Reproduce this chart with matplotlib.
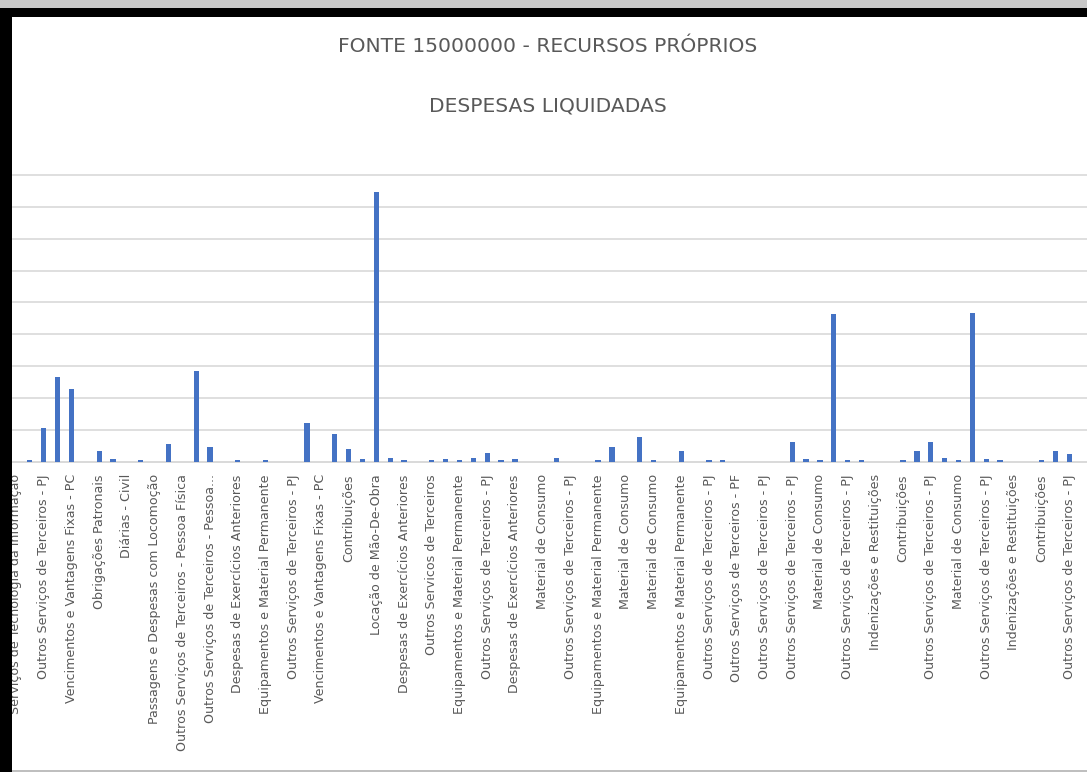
import matplotlib
matplotlib.use("Agg")
import matplotlib.pyplot as plt
from matplotlib.patches import Rectangle
import numpy as np

plt.rcParams['font.family'] = ['Liberation Sans Narrow', 'DejaVu Sans']

title1 = "FONTE 15000000 - RECURSOS PRÓPRIOS"
title2 = "DESPESAS LIQUIDADAS"

# values per category (in grid units), 77 categories; every other label shown
values = [0, 0.05, 1.05, 2.66, 2.27, 0, 0.33, 0.08, 0, 0.05,
          0, 0.54, 0, 2.84, 0.47, 0, 0.05, 0, 0.05, 0,
          0, 1.2, 0, 0.87, 0.39, 0.08, 8.46, 0.13, 0.05, 0,
          0.05, 0.08, 0.05, 0.13, 0.26, 0.05, 0.08, 0, 0, 0.13,
          0, 0, 0.05, 0.47, 0, 0.76, 0.05, 0, 0.33, 0,
          0.05, 0.05, 0, 0, 0, 0, 0.63, 0.08, 0.05, 4.63,
          0.05, 0.05, 0, 0, 0.05, 0.33, 0.63, 0.13, 0.05, 4.68,
          0.08, 0.05, 0, 0, 0.05, 0.33, 0.24]

shown_labels = [
    "Serviços de Tecnologia da Informação",
    "Outros Serviços de Terceiros - PJ",
    "Vencimentos e Vantagens Fixas - PC",
    "Obrigações Patronais",
    "Diárias - Civil",
    "Passagens e Despesas com Locomoção",
    "Outros Serviços de Terceiros - Pessoa Física",
    "Outros Serviços de Terceiros - Pessoa...",
    "Despesas de Exercícios Anteriores",
    "Equipamentos e Material Permanente",
    "Outros Serviços de Terceiros - PJ",
    "Vencimentos e Vantagens Fixas - PC",
    "Contribuições",
    "Locação de Mão-De-Obra",
    "Despesas de Exercícios Anteriores",
    "Outros Servicos de Terceiros",
    "Equipamentos e Material Permanente",
    "Outros Serviços de Terceiros - PJ",
    "Despesas de Exercícios Anteriores",
    "Material de Consumo",
    "Outros Serviços de Terceiros - PJ",
    "Equipamentos e Material Permanente",
    "Material de Consumo",
    "Material de Consumo",
    "Equipamentos e Material Permanente",
    "Outros Serviços de Terceiros - PJ",
    "Outros Serviços de Terceiros - PF",
    "Outros Serviços de Terceiros - PJ",
    "Outros Serviços de Terceiros - PJ",
    "Material de Consumo",
    "Outros Serviços de Terceiros - PJ",
    "Indenizações e Restituições",
    "Contribuições",
    "Outros Serviços de Terceiros - PJ",
    "Material de Consumo",
    "Outros Serviços de Terceiros - PJ",
    "Indenizações e Restituições",
    "Contribuições",
    "Outros Serviços de Terceiros - PJ",
]

W, H = 1087, 772
fig = plt.figure(figsize=(W / 100, H / 100), dpi=100)

x_left_px, x_right_px = 13, 1087
y_top_px, y_bot_px = 175, 461.7
ax = fig.add_axes([x_left_px / W, 1 - y_bot_px / H,
                   (x_right_px - x_left_px) / W, (y_bot_px - y_top_px) / H])

x = np.arange(len(values))
ax.bar(x, values, width=0.38, color='#4472C4', zorder=3)

step = 13.86
ax.set_xlim((x_left_px - 16) / step, (x_right_px - 16) / step)
ax.set_ylim(0, 9)
ax.set_yticks(np.arange(0, 10, 1))
ax.yaxis.grid(True, color='#d9d9d9', linewidth=1.2, zorder=0)
for g in ax.get_ygridlines():
    g.set_clip_on(False)
ax.tick_params(axis='y', left=False, labelleft=False)

ax.set_xticks(x[::2])
ax.set_xticklabels(shown_labels, rotation=90, fontsize=9.1, color='#595959')
ax.tick_params(axis='x', length=0, pad=9)

for s in ['top', 'right', 'left']:
    ax.spines[s].set_visible(False)
ax.spines['bottom'].set_color('#d9d9d9')
ax.spines['bottom'].set_linewidth(1.2)

fig.text(548 / W, 1 - 46 / H, title1, ha='center', va='center',
         fontsize=14.6, color='#595959')
fig.text(548 / W, 1 - 106 / H, title2, ha='center', va='center',
         fontsize=14.6, color='#595959')

# screenshot frame
fig.add_artist(Rectangle((0, 1 - 8 / H), 1, 8 / H, transform=fig.transFigure,
                         facecolor='#c8c8c8', edgecolor='none', zorder=10))
fig.add_artist(Rectangle((0, 1 - 17 / H), 1, 9 / H, transform=fig.transFigure,
                         facecolor='black', edgecolor='none', zorder=11))
fig.add_artist(Rectangle((0, 0), 12 / W, 1 - 8 / H, transform=fig.transFigure,
                         facecolor='black', edgecolor='none', zorder=11))
fig.add_artist(Rectangle((0, 0), 1, 2 / H, transform=fig.transFigure,
                         facecolor='#bfbfbf', edgecolor='none', zorder=10))

fig.savefig('out.png', dpi=100)
